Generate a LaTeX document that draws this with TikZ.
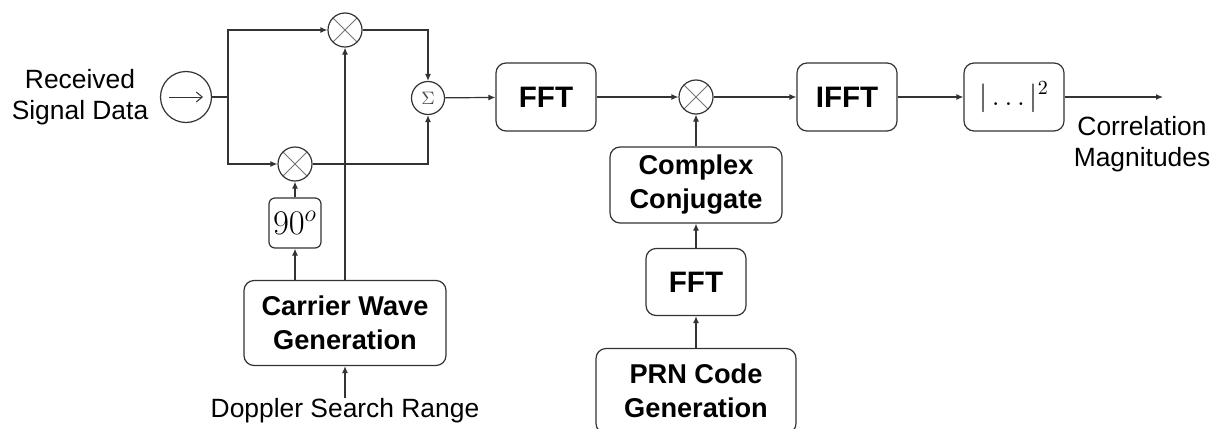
\documentclass[tikz,border=0pt]{standalone}
\usepackage{fontspec}
\setmainfont{Liberation Sans}
\usetikzlibrary{arrows.meta,calc}
\begin{document}
\begin{tikzpicture}[x=0.5pt,y=-0.5pt,
  ln/.style={draw=black!80,line width=0.6pt},
  arr/.style={ln,-{Latex[length=3.5pt,width=3pt]}},
  blk/.style={ln,rounded corners=5pt,inner sep=0pt,align=center,
    font=\fontsize{13.6}{17}\selectfont\bfseries},
  bigblk/.style={blk,font=\fontsize{14.8}{17}\selectfont\bfseries,minimum width=50pt,minimum height=34pt},
  txt/.style={align=center,inner sep=0pt,font=\fontsize{13.2}{15.5}\selectfont},
  mult/.style={circle,ln,minimum size=17pt,inner sep=0pt,
    path picture={\draw[black!55,line width=0.5pt]
      (path picture bounding box.south west)--(path picture bounding box.north east)
      (path picture bounding box.north west)--(path picture bounding box.south east);}},
]
\useasboundingbox (0,0) rectangle (1213,428);
% input
\node[txt] (rsd) at (80,97) {Received\\Signal Data};
\node[circle,ln,minimum size=25.5pt,inner sep=0pt] (in) at (186,97) {};
\draw[black!80,line width=0.5pt,-{Straight Barb[length=3pt,width=5pt]}]
  ([xshift=-8.5pt]in.center) -- ([xshift=8.5pt]in.center);
\coordinate (split) at (228,97);
\node[mult] (m1) at (345,30) {};
\node[mult] (m2) at (295,164) {};
\node[circle,ln,minimum size=16.5pt,inner sep=0pt,font=\fontsize{9}{9}\selectfont,text=black!70] (sum) at (428,98) {$\Sigma$};
\draw[ln] (in) -- (split);
\draw[arr] (split) |- (m1);
\draw[arr] (split) |- (m2);
\draw[arr] (m1) -| (sum);
\draw[arr] (m2) -| (sum);
% carrier branch
\node[blk,rounded corners=3pt,font=\fontsize{16.5}{17}\selectfont,minimum width=26pt,minimum height=25pt] (b90) at (295,223) {$90^o$};
\node[blk,minimum width=101pt,minimum height=42.5pt] (car) at (345,323) {Carrier Wave\\Generation};
\node[txt] (dop) at (345,411) {Doppler Search Range};
\draw[arr] (b90.south |- car.north) -- (b90.south);
\draw[arr] (b90) -- (m2);
\draw[arr] (car) -- (m1);
\draw[arr] (dop) -- (car);
% main chain
\node[bigblk] (fft1) at (546,97) {FFT};
\node[mult] (m3) at (696,97) {};
\node[blk,minimum width=86pt,minimum height=38pt] (cc) at (696,185) {Complex\\Conjugate};
\node[bigblk,minimum height=33.5pt] (fft2) at (696,282) {FFT};
\node[blk,minimum width=100pt,minimum height=42.5pt] (prn) at (696,391) {PRN Code\\Generation};
\node[bigblk] (ifft) at (847,97) {IFFT};
\node[blk,font=\fontsize{14.5}{15}\selectfont,minimum width=50pt,minimum height=34pt] (mag) at (1014,97) {$|\ldots|^2$};
\coordinate (out) at (1163,97);
\node[txt] (corr) at (1142,144) {Correlation\\Magnitudes};
\draw[arr] (sum) -- (fft1);
\draw[arr] (fft1) -- (m3);
\draw[arr] (m3) -- (ifft);
\draw[arr] (ifft) -- (mag);
\draw[arr] (mag) -- (out);
\draw[arr] (cc) -- (m3);
\draw[arr] (fft2) -- (cc);
\draw[arr] (prn) -- (fft2);
\end{tikzpicture}
\end{document}
